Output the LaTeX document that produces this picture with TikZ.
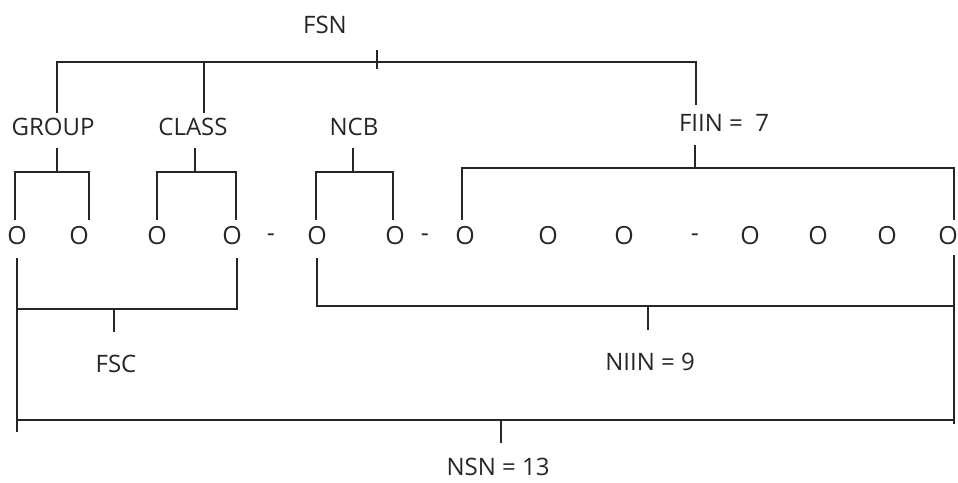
\documentclass[tikz,border=0pt]{standalone}
\usepackage{fontspec}
\setmainfont{Open Sans}
\begin{document}
\begin{tikzpicture}[x=1pt,y=-1pt,line width=1.3pt,
  lbl/.style={font=\fontsize{24}{28}\selectfont,inner sep=0pt,text=black!85},
  dig/.style={font=\fontsize{25}{28}\selectfont,inner sep=0pt,text=black!85},
  ln/.style={draw=black!85,line width=1.3pt}]
\useasboundingbox (0,0) rectangle (958,482);
% labels
\node[lbl] (fsn) at (325,25) {FSN};
\node[lbl] (group) at (53,127) {GROUP};
\node[lbl] (class) at (193,127) {CLASS};
\node[lbl] (ncb) at (354,127) {NCB};
\node[lbl] (fiin) at (724,123) {FIIN =\ \ 7};
\node[lbl] (fsc) at (116,364) {FSC};
\node[lbl] (niin) at (650,362) {NIIN = 9};
\node[lbl] (nsn) at (498,467) {NSN = 13};
% digits
\foreach \x [count=\i] in {17,79,157,232,317,395,465,548,624,750,818,887,948}
  \node[dig] (d\i) at (\x,236) {O};
\foreach \x [count=\i] in {271,425,695}
  \node[dig] (h\i) at (\x,238) {-};
% top bar
\coordinate (barL) at (57,62);
\coordinate (barC) at (204,62);
\coordinate (barR) at (696,62);
\coordinate (fsntick) at (377,62);
\draw[ln] ([yshift=5pt]group.north -| barL) -- (barL) -- (barR) -- ([yshift=9pt]fiin.north -| barR);
\draw[ln] (barC) -- ([yshift=5pt]class.north -| barC);
\draw[ln] (fsntick) ++(0,-12) -- ++(0,19);
% small brackets under labels
\coordinate (gj) at (57,172);
\coordinate (cj) at (195,172);
\coordinate (nj) at (353,172);
\coordinate (fj) at (695,168);
\draw[ln] (gj) ++(0,-24) -- (gj);
\draw[ln] (15,220) |- (89,172) -- (89,220);
\draw[ln] (cj) ++(0,-24) -- (cj);
\draw[ln] (157,220) |- (236,172) -- (236,220);
\draw[ln] (nj) ++(0,-24) -- (nj);
\draw[ln] (316,220) |- (393,172) -- (393,220);
\draw[ln] (fj) ++(0,-23) -- (fj);
\draw[ln] (462,220) |- (954,168) -- (954,220);
% lower brackets
\coordinate (fscj) at (114,309);
\coordinate (niinj) at (648,306);
\coordinate (nsnj) at (501,420);
\draw[ln] (17,258) -- (17,432);
\draw[ln] (17,309) -- (237,309) -- (237,258);
\draw[ln] (fscj) -- ++(0,23);
\draw[ln] (317,258) |- (954,306);
\draw[ln] (954,255) -- (954,424);
\draw[ln] (niinj) -- ++(0,24);
\draw[ln] (17,420) -- (954,420);
\draw[ln] (nsnj) -- ++(0,23);
\end{tikzpicture}
\end{document}
